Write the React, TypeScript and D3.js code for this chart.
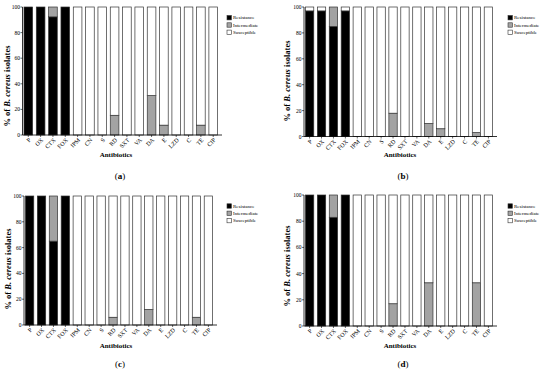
import * as d3 from "d3";

const antibiotics = ["P", "OX", "CTX", "FOX", "IPM", "CN", "S", "RD", "SXT", "VA", "DA", "E", "LZD", "C", "TE", "CIP"];
const yTicks = [0, 20, 40, 60, 80, 100];
const legendLabels = ["Resistance", "Intermediate", "Susceptible"];
const legendFills = ["#000000", "#a3a3a3", "#ffffff"];

const resistA = [100, 100, 92.3, 100, 0, 0, 0, 0, 0, 0, 0, 0, 0, 0, 0, 0];
const interA = [0, 0, 7.7, 0, 0, 0, 0, 15.4, 0, 0, 30.8, 7.7, 0, 0, 7.7, 0];
const suscA = [0, 0, 0, 0, 100, 100, 100, 84.6, 100, 100, 69.2, 92.3, 100, 100, 92.3, 100];

const resistB = [97, 97, 85, 97, 0, 0, 0, 0, 0, 0, 0, 0, 0, 0, 0, 0];
const interB = [0, 0, 15, 0, 0, 0, 0, 18, 0, 0, 10, 6, 0, 0, 3, 0];
const suscB = [3, 3, 0, 3, 100, 100, 100, 82, 100, 100, 90, 94, 100, 100, 97, 100];

const resistC = [100, 100, 65, 100, 0, 0, 0, 0, 0, 0, 0, 0, 0, 0, 0, 0];
const interC = [0, 0, 35, 0, 0, 0, 0, 6, 0, 0, 12, 0, 0, 0, 6, 0];
const suscC = [0, 0, 0, 0, 100, 100, 100, 94, 100, 100, 88, 100, 100, 100, 94, 100];

const resistD = [100, 100, 83, 100, 0, 0, 0, 0, 0, 0, 0, 0, 0, 0, 0, 0];
const interD = [0, 0, 17, 0, 0, 0, 0, 17, 0, 0, 33, 0, 0, 0, 33, 0];
const suscD = [0, 0, 0, 0, 100, 100, 100, 83, 100, 100, 67, 100, 100, 100, 67, 100];

const font = "'Liberation Serif', 'DejaVu Serif', serif";

function Panel({ left, right, y0, y100, resist, inter, susc, caption, labelX, labelY, xTitleX, xTitleY, capX, capY, legX, legY }) {
  const x = d3.scaleBand().domain(antibiotics).range([left, right - 3]).paddingInner(0.3).paddingOuter(0.12);
  const y = d3.scaleLinear().domain([0, 100]).range([y0, y100]);
  const rows = antibiotics.map((a, i) => ({ a, r: resist[i], i2: inter[i], s: susc[i] }));
  const stack = d3.stack().keys(["r", "i2", "s"])(rows);

  return (
    <g>
      {stack.map((layer, li) => (
        <g key={li} fill={legendFills[li]} stroke="#333" strokeWidth={0.7}>
          {layer.map((d, j) =>
            d[1] - d[0] > 0 ? (
              <rect key={j} x={x(antibiotics[j])} width={x.bandwidth()} y={y(d[1])} height={y(d[0]) - y(d[1])} />
            ) : null
          )}
        </g>
      ))}
      <line x1={left} x2={left} y1={y0} y2={y100} stroke="#000" strokeWidth={0.8} />
      <line x1={left} x2={right} y1={y0} y2={y0} stroke="#000" strokeWidth={0.8} />
      {yTicks.map((t) => (
        <g key={t}>
          <line x1={left - 2} x2={left} y1={y(t)} y2={y(t)} stroke="#000" strokeWidth={0.6} />
          <text x={left - 2.5} y={y(t)} fontSize={5.5} textAnchor="end" dominantBaseline="central" fontFamily={font}>{t}</text>
        </g>
      ))}
      {antibiotics.map((a) => {
        const cx = x(a) + x.bandwidth() / 2;
        const ty = y0 + 4;
        return (
          <g key={a}>
            <line x1={cx} x2={cx} y1={y0} y2={y0 + 2} stroke="#000" strokeWidth={0.6} />
            <g transform={`translate(${cx + 1.5},${ty})`}>
              <text transform="rotate(-45)" fontSize={6} textAnchor="end" dy="0.35em" fontFamily={font}>{a}</text>
            </g>
          </g>
        );
      })}
      <text transform={`translate(${labelX},${labelY}) rotate(-90)`} fontSize={8.5} textAnchor="middle" dominantBaseline="central" fontFamily={font} fontWeight="bold">
        % of <tspan fontStyle="italic">B. cereus</tspan> isolates
      </text>
      <text x={xTitleX} y={xTitleY} fontSize={7} textAnchor="middle" fontFamily={font} fontWeight="bold">Antibiotics</text>
      <text x={capX} y={capY} fontSize={9} textAnchor="middle" fontFamily={font}>
        (<tspan fontWeight="bold">{caption}</tspan>)
      </text>
      {legendLabels.map((l, i) => (
        <g key={l}>
          <rect x={legX} y={legY + i * 7.3 - 2.2} width={4.4} height={4.4} fill={legendFills[i]} stroke="#333" strokeWidth={0.6} />
          <text x={legX + 6} y={legY + i * 7.3} fontSize={5} dominantBaseline="central" fontFamily={font}>{l}</text>
        </g>
      ))}
    </g>
  );
}

export default function App() {
  return (
    <svg width={550} height={372} style={{ position: "absolute", left: 0, top: 0, background: "#fff" }}>
      <Panel left={22.5} right={222} y0={135} y100={7} resist={resistA} inter={interA} susc={suscA}
        caption="a" labelX={7} labelY={86} xTitleX={116} xTitleY={157} capX={120} capY={179} legX={227} legY={17.7} />
      <Panel left={304} right={497} y0={136.5} y100={7} resist={resistB} inter={interB} susc={suscB}
        caption="b" labelX={287} labelY={81} xTitleX={400} xTitleY={157} capX={403} capY={179} legX={508} legY={17.7} />
      <Panel left={24} right={217} y0={325} y100={196} resist={resistC} inter={interC} susc={suscC}
        caption="c" labelX={7.5} labelY={269} xTitleX={116} xTitleY={348} capX={120} capY={367} legX={227} legY={206} />
      <Panel left={304} right={497} y0={326} y100={195} resist={resistD} inter={interD} susc={suscD}
        caption="d" labelX={287} labelY={266} xTitleX={400} xTitleY={348} capX={403} capY={367} legX={508} legY={206} />
    </svg>
  );
}
